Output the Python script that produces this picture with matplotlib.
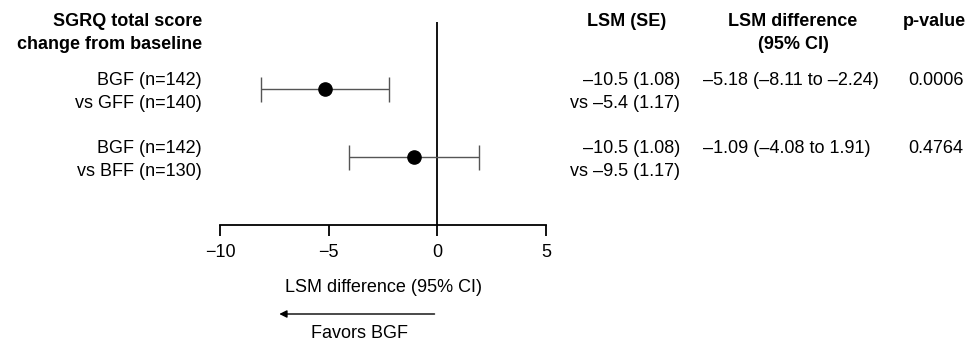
import matplotlib
matplotlib.use("Agg")
import matplotlib.pyplot as plt
from matplotlib.transforms import blended_transform_factory, offset_copy

plt.rcParams['font.family'] = ['Liberation Sans', 'DejaVu Sans']

# donnees
group_bgf = ["BGF (n=142)", "BGF (n=142)"]
group_comp = ["vs GFF (n=140)", "vs BFF (n=130)"]
lsm_diff = [-5.18, -1.09]
ci_low = [-8.11, -4.08]
ci_high = [-2.24, 1.91]
lsm_bgf = ["–10.5 (1.08)", "–10.5 (1.08)"]
lsm_comp = ["vs –5.4 (1.17)", "vs –9.5 (1.17)"]
p_values = ["0.0006", "0.4764"]
xticks = [-10, -5, 0, 5]

W, H = 969, 341
fs = 13
fig = plt.figure(figsize=(W / 100, H / 100), dpi=100)

# axes du forest plot (en pixels de la figure)
left, right, top, bottom = 220, 546, 22, 225
ax = fig.add_axes([left / W, (H - bottom) / H, (right - left) / W, (bottom - top) / H])

rows = list(range(len(lsm_diff)))
err = [[d - lo for d, lo in zip(lsm_diff, ci_low)], [hi - d for d, hi in zip(lsm_diff, ci_high)]]
ax.errorbar(lsm_diff, rows, xerr=err, fmt='o', color='black', markersize=9.5,
            ecolor='#555555', elinewidth=1.0, capsize=9, capthick=1.0, zorder=3)
ax.axvline(0, color='black', linewidth=1.3, zorder=1)

ax.set_xlim(-10, 5)
ax.set_ylim(2.0, -0.985)
ax.set_xticks(xticks)
ax.set_xticklabels([str(t).replace('-', '\u2212') for t in xticks], fontsize=fs)
ax.tick_params(axis='x', length=8, width=1.3, pad=6, direction='out')
ax.set_yticks([])
for s in ['top', 'right', 'left']:
    ax.spines[s].set_visible(False)
ax.spines['bottom'].set_linewidth(1.3)
ax.set_xlabel("LSM difference (95% CI)", fontsize=fs, labelpad=13)

# fleche "Favors BGF"
ax.annotate("", xy=(-7.4, H - 314), xytext=(0, H - 314),
            xycoords=('data', 'figure pixels'), textcoords=('data', 'figure pixels'),
            arrowprops=dict(arrowstyle='-|>', color='black', linewidth=1.0, mutation_scale=11))
ax.annotate("Favors BGF", xy=(-3.6, H - 338), xycoords=('data', 'figure pixels'),
            fontsize=fs, ha='center', va='baseline')

def px(x, y):
    return x / W, (H - y) / H

# titres
fig.text(*px(202, 26), "SGRQ total score", fontsize=fs, fontweight='bold', ha='right', va='baseline')
fig.text(*px(202, 49), "change from baseline", fontsize=fs, fontweight='bold', ha='right', va='baseline')
fig.text(*px(627, 26), "LSM (SE)", fontsize=fs, fontweight='bold', ha='center', va='baseline')
fig.text(*px(793, 26), "LSM difference", fontsize=fs, fontweight='bold', ha='center', va='baseline')
fig.text(*px(793, 49), "(95% CI)", fontsize=fs, fontweight='bold', ha='center', va='baseline')
fig.text(*px(966, 26), "p-value", fontsize=fs, fontweight='bold', ha='right', va='baseline')

# texte des lignes, positionne sur les lignes de l'axe
base = blended_transform_factory(fig.transFigure, ax.transData)
up = offset_copy(base, fig=fig, y=3.5, units='dots')
down = offset_copy(base, fig=fig, y=-19.5, units='dots')
for i in rows:
    fig.text(202 / W, i, group_bgf[i], fontsize=fs, ha='right', va='baseline', transform=up)
    fig.text(202 / W, i, group_comp[i], fontsize=fs, ha='right', va='baseline', transform=down)
    fig.text(680 / W, i, lsm_bgf[i], fontsize=fs, ha='right', va='baseline', transform=up)
    fig.text(680 / W, i, lsm_comp[i], fontsize=fs, ha='right', va='baseline', transform=down)
    diff_txt = f"{lsm_diff[i]:.2f} ({ci_low[i]:.2f} to {ci_high[i]:.2f})".replace('-', '–')
    fig.text(703 / W, i, diff_txt, fontsize=fs, ha='left', va='baseline', transform=up)
    fig.text(908 / W, i, p_values[i], fontsize=fs, ha='left', va='baseline', transform=up)

fig.savefig("out.png", dpi=100)
